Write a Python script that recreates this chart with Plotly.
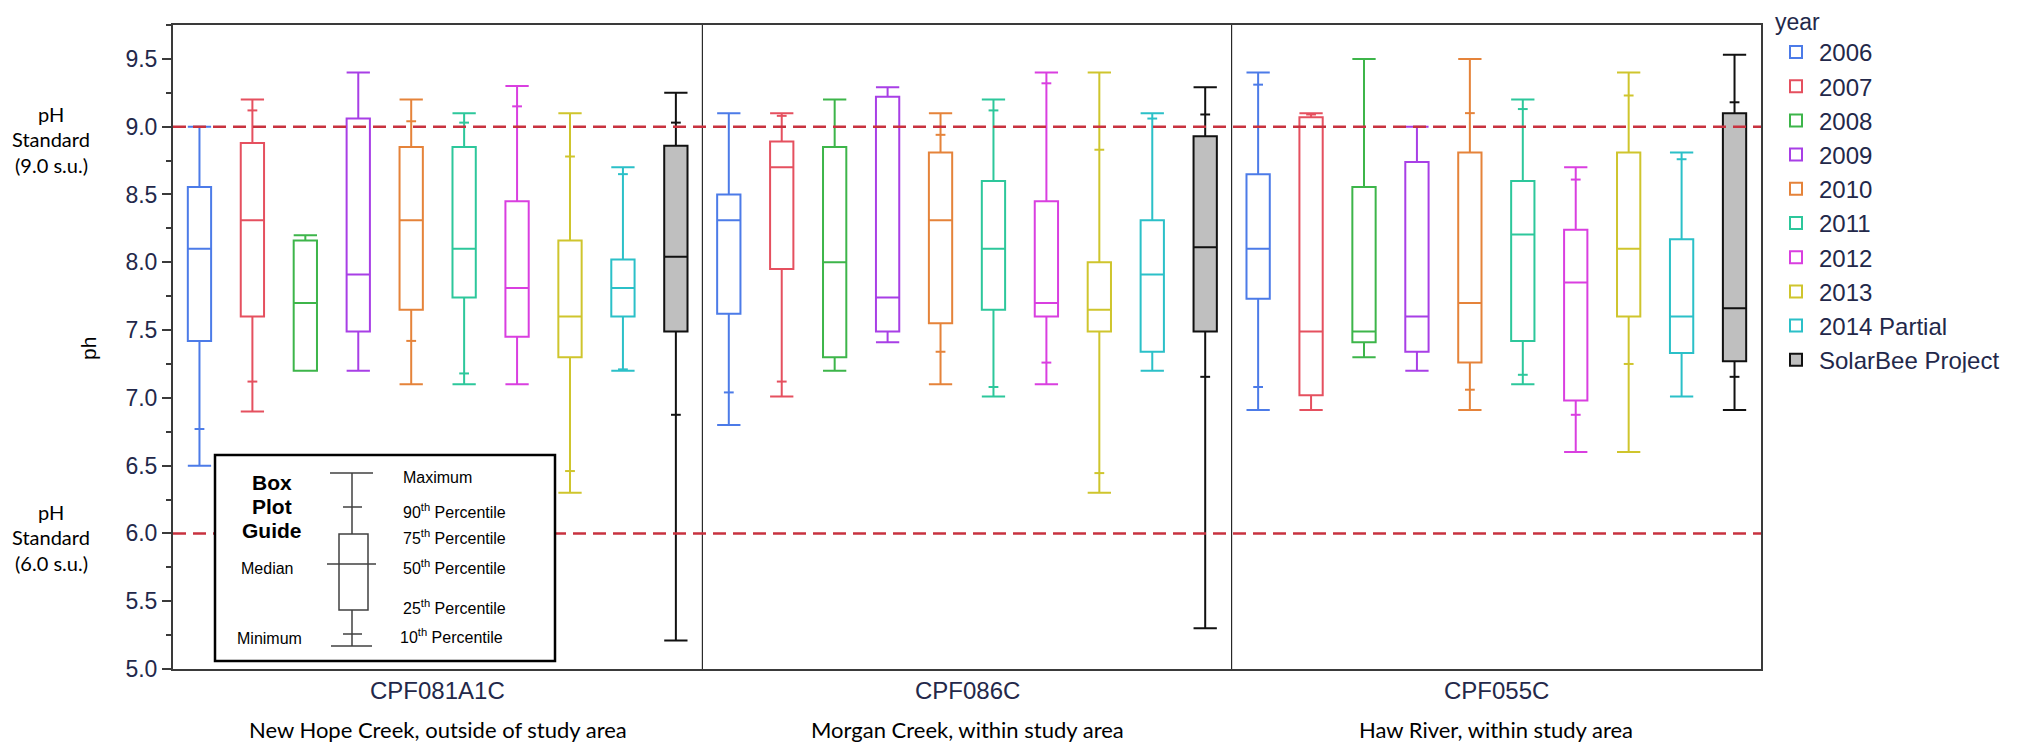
import plotly.graph_objects as go

# ---------------- data ----------------
sites = ["CPF081A1C", "CPF086C", "CPF055C"]
site_desc = ["New Hope Creek, outside of study area",
             "Morgan Creek, within study area",
             "Haw River, within study area"]
years = ["2006", "2007", "2008", "2009", "2010", "2011", "2012", "2013",
         "2014 Partial", "SolarBee Project"]
colors = ["#4C7BE8", "#E5505F", "#3DB54A", "#A83FE6", "#E5833A",
          "#2DC79B", "#D93FE0", "#CFC52D", "#2BC0C8", "#111111"]
fills = ["white"] * 9 + ["#BFBFBF"]

# per year: values for [CPF081A1C, CPF086C, CPF055C]
ph_min = [[6.50, 6.80, 6.91], [6.90, 7.01, 6.91], [7.20, 7.20, 7.30], [7.20, 7.41, 7.20],
          [7.10, 7.10, 6.91], [7.10, 7.01, 7.10], [7.10, 7.10, 6.60], [6.30, 6.30, 6.60],
          [7.20, 7.20, 7.01], [5.21, 5.30, 6.91]]
ph_p10 = [[6.77, 7.04, 7.08], [7.12, 7.12, None], [None, None, None], [None, None, None],
          [7.42, 7.34, 7.06], [7.18, 7.08, 7.17], [None, 7.26, 6.875], [6.46, 6.445, 7.25],
          [7.21, None, None], [6.875, 7.155, 7.155]]
ph_q1 = [[7.42, 7.62, 7.73], [7.60, 7.95, 7.02], [7.20, 7.30, 7.41], [7.49, 7.49, 7.34],
         [7.65, 7.55, 7.26], [7.74, 7.65, 7.42], [7.45, 7.60, 6.98], [7.30, 7.49, 7.60],
         [7.60, 7.34, 7.33], [7.49, 7.49, 7.27]]
ph_med = [[8.10, 8.31, 8.10], [8.31, 8.70, 7.49], [7.70, 8.00, 7.49], [7.91, 7.74, 7.60],
          [8.31, 8.31, 7.70], [8.10, 8.10, 8.205], [7.81, 7.70, 7.85], [7.60, 7.65, 8.10],
          [7.81, 7.91, 7.60], [8.04, 8.11, 7.66]]
ph_q3 = [[8.555, 8.50, 8.65], [8.88, 8.89, 9.07], [8.16, 8.85, 8.555], [9.06, 9.22, 8.74],
         [8.85, 8.81, 8.81], [8.85, 8.60, 8.60], [8.45, 8.45, 8.24], [8.16, 8.00, 8.81],
         [8.02, 8.31, 8.17], [8.86, 8.93, 9.10]]
ph_p90 = [[None, None, 9.31], [9.12, 9.08, 9.09], [None, None, None], [None, None, None],
          [9.04, 8.94, 9.10], [9.03, 9.12, 9.13], [9.15, 9.32, 8.61], [8.78, 8.83, 9.23],
          [8.65, 9.06, 8.76], [9.03, 9.09, 9.18]]
ph_max = [[9.00, 9.10, 9.40], [9.20, 9.10, 9.10], [8.20, 9.20, 9.50], [9.40, 9.29, 9.00],
          [9.20, 9.10, 9.50], [9.10, 9.20, 9.20], [9.30, 9.40, 8.70], [9.10, 9.40, 9.40],
          [8.70, 9.10, 8.81], [9.25, 9.29, 9.53]]

y_ticks = [5.0, 5.5, 6.0, 6.5, 7.0, 7.5, 8.0, 8.5, 9.0, 9.5]
standards = [9.0, 6.0]

# ---------------- layout geometry (page pixels) ----------------
W, H = 2021, 745
L, R, T, B = 173, 1761, 25, 669   # plot area in page pixels


def px(x):
    return (x - L) / (R - L)


def py(y):
    return (B - y) / (B - T)


n = len(years)
slot = 1.0 / n
box_w = 0.044

TICKFONT = "Arial, Liberation Sans, sans-serif"
CALFONT = "Lato, Open Sans, sans-serif"
TXT = "#23284a"

fig = go.Figure()
for i, yr in enumerate(years):
    xs = [s + (i - (n - 1) / 2) * slot for s in range(len(sites))]
    fig.add_trace(go.Box(
        x=xs, q1=ph_q1[i], median=ph_med[i], q3=ph_q3[i],
        lowerfence=ph_min[i], upperfence=ph_max[i],
        name=yr, width=box_w, whiskerwidth=1, boxpoints=False,
        line=dict(color=colors[i], width=2), fillcolor=fills[i],
        legendgroup=yr, hoverinfo="skip"))
    mx, my = [], []
    for x, a, b in zip(xs, ph_p10[i], ph_p90[i]):
        for v in (a, b):
            if v is not None:
                mx.append(x)
                my.append(v)
    fig.add_trace(go.Scatter(
        x=mx, y=my, mode="markers", showlegend=False, legendgroup=yr,
        marker=dict(symbol="line-ew", size=7, line=dict(color=colors[i], width=2)),
        hoverinfo="skip"))

shapes = []
# panel dividers
for d in [0.5, 1.5]:
    shapes.append(dict(type="line", xref="x", yref="paper", x0=d, x1=d, y0=0, y1=1,
                       line=dict(color="black", width=1)))
# pH standard dashed lines
for s in standards:
    shapes.append(dict(type="line", xref="paper", yref="y", x0=0, x1=1, y0=s, y1=s,
                       line=dict(color="#C8323F", width=2.5, dash="13px,7px")))

# Box plot guide (inset)
shapes.append(dict(type="rect", xref="paper", yref="paper",
                   x0=px(215), x1=px(555), y0=py(455), y1=py(661),
                   line=dict(color="black", width=2.5), fillcolor="white"))
GC = "#404040"
gl = dict(color=GC, width=1.5)
cx = 352


def hline(x0, x1, y):
    shapes.append(dict(type="line", xref="paper", yref="paper",
                       x0=px(x0), x1=px(x1), y0=py(y), y1=py(y), line=gl))


hline(330, 373, 473)     # max cap
hline(343, 362, 507)     # 90th
hline(327, 376, 564)     # median
hline(343, 362, 634)     # 10th
hline(331, 372, 646)     # min cap
shapes.append(dict(type="line", xref="paper", yref="paper", x0=px(cx), x1=px(cx),
                   y0=py(473), y1=py(534), line=gl))
shapes.append(dict(type="line", xref="paper", yref="paper", x0=px(cx), x1=px(cx),
                   y0=py(610), y1=py(646), line=gl))
shapes.append(dict(type="rect", xref="paper", yref="paper", x0=px(339), x1=px(368),
                   y0=py(534), y1=py(610), line=gl, fillcolor="rgba(0,0,0,0)"))

ann = []


def note(text, x, y, size, family=TICKFONT, color="black", xanchor="center",
         xref="paper", angle=0):
    ann.append(dict(x=x, y=y, xref=xref, yref="paper", text=text, showarrow=False,
                    xanchor=xanchor, yanchor="middle", textangle=angle,
                    font=dict(family=family, size=size, color=color)))


# site codes and descriptions
for k, (s, d) in enumerate(zip(sites, site_desc)):
    note(s, k, py(690), 24, color=TXT, xref="x")
    note(d, k, py(729), 22, family=CALFONT, xref="x")
# y-axis title
note("ph", px(89), py(349), 21, angle=-90)
# pH standard labels
for lines, ys in [(["pH", "Standard", "(9.0 s.u.)"], [114, 139, 165]),
                  (["pH", "Standard", "(6.0 s.u.)"], [512, 537, 563])]:
    for t, yy in zip(lines, ys):
        note(t, px(51), py(yy), 20, family=CALFONT)
# guide texts
for t, yy in [("Box", 482), ("Plot", 506), ("Guide", 530)]:
    note("<b>%s</b>" % t, px(272), py(yy), 21)
for t, xx, yy in [("Median", 267, 568), ("Minimum", 269, 638)]:
    note(t, px(xx), py(yy), 16)
for t, xx, yy in [("Maximum", 401, 477),
                  ("90<sup>th</sup> Percentile", 401, 511),
                  ("75<sup>th</sup> Percentile", 401, 537),
                  ("50<sup>th</sup> Percentile", 401, 567),
                  ("25<sup>th</sup> Percentile", 401, 607),
                  ("10<sup>th</sup> Percentile", 398, 636)]:
    note(t, px(xx), py(yy), 16, xanchor="left")

fig.update_layout(
    width=W, height=H,
    margin=dict(l=L, r=W - R, t=T, b=H - B, pad=0, autoexpand=False),
    paper_bgcolor="white", plot_bgcolor="white",
    showlegend=True,
    legend=dict(xref="container", yref="container",
                x=1773 / W, y=1.0, xanchor="left", yanchor="top",
                title=dict(text="year", font=dict(family=TICKFONT, size=23, color=TXT)),
                font=dict(family=TICKFONT, size=24, color=TXT),
                bgcolor="rgba(0,0,0,0)", tracegroupgap=0, itemwidth=36),
    shapes=shapes, annotations=ann,
    xaxis=dict(range=[-0.5, 2.5], showticklabels=False, ticks="", showgrid=False,
               zeroline=False, showline=True, mirror=True, linecolor="#3a3a3a",
               linewidth=2, fixedrange=True),
    yaxis=dict(range=[5.0, 9.75], tickvals=y_ticks,
               ticktext=["%.1f" % v for v in y_ticks],
               ticks="outside", ticklen=9, tickwidth=2, tickcolor="#3a3a3a",
               minor=dict(dtick=0.25, tick0=5.0, ticks="outside", ticklen=5,
                          tickwidth=2, tickcolor="#3a3a3a", showgrid=False),
               tickfont=dict(family=TICKFONT, size=23, color=TXT),
               showgrid=False, zeroline=False, showline=True, mirror=True,
               linecolor="#3a3a3a", linewidth=2, fixedrange=True),
)

fig.write_html(
    "out.html",
    config={"displayModeBar": False, "staticPlot": True},
    post_script="document.body.style.margin='0';document.body.style.overflow='hidden';",
)
